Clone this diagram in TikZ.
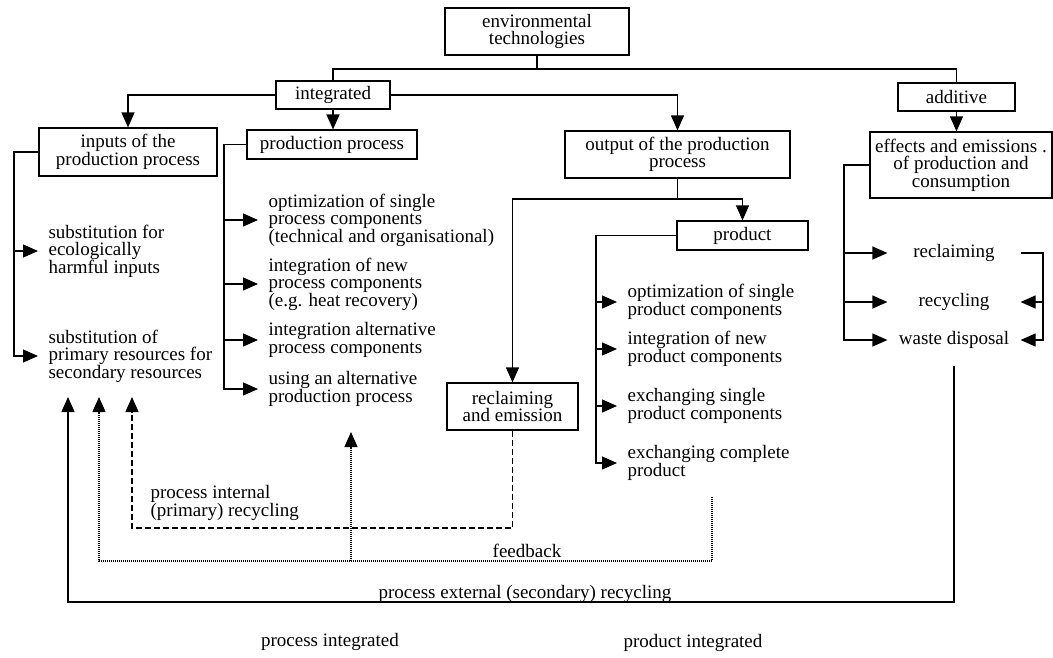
\documentclass[tikz,border=0pt]{standalone}
\usepackage{fontspec}
\setmainfont{Liberation Serif}
\usetikzlibrary{arrows.meta}
\tikzset{
  box/.style={draw, align=center, inner sep=0pt},
  item/.style={anchor=west, align=left, inner xsep=10pt, inner ysep=0pt},
  sink/.style={minimum width=132pt, inner sep=0pt},
  arr/.style={-{Triangle[length=15pt,width=13pt]}},
  primline/.style={dash pattern=on 6pt off 3pt},
  feedline/.style={dash pattern=on 1pt off 1pt}
}
\newcommand{\branch}[2]{\draw[arr] (#1.west -| #2) -- (#1.west);}

\begin{document}
\begin{tikzpicture}[x=1pt, y=-1pt, line width=1.2pt, font=\fontsize{19pt}{17.5pt}\selectfont]
      \useasboundingbox (0,0) rectangle (1053,657);
      \node[box, minimum width=184pt, minimum height=47pt] (env) at (537,31.5) {environmental\\technologies};
      \node[box, minimum width=114pt, minimum height=28pt] (integ) at (333,95) {integrated};
      \node[box, minimum width=117pt, minimum height=28pt] (addit) at (956.5,97) {additive};
      \node[box, minimum width=178pt, minimum height=48pt] (inputs) at (128,152) {inputs of the\\production process};
      \node[box, minimum width=170pt, minimum height=29pt] (proc) at (332,144.5) {production process};
      \node[box, minimum width=225pt, minimum height=47pt] (output) at (677.5,154.5) {output of the production\\process};
      \node[box, minimum width=182pt, minimum height=66pt] (effects) at (961,165) {effects and emissions .\\of production and\\consumption};
      \node[box, minimum width=131pt, minimum height=29pt] (product) at (742.5,235.5) {product};
      \node[box, minimum width=131pt, minimum height=47pt] (reclaim) at (512.5,406.5) {reclaiming\\and emission};
      \node[item] (in1) at (38,251) {substitution for\\ecologically\\harmful inputs};
      \node[item] (in2) at (38,356) {substitution of\\primary resources for\\secondary resources};
      \node[item] (pc1) at (258,220) {optimization of single\\process components\\(technical and organisational)};
      \node[item] (pc2) at (258,284) {integration of new\\process components\\(e.g. heat recovery)};
      \node[item] (pc3) at (258,340) {integration alternative\\process components};
      \node[item] (pc4) at (258,389) {using an alternative\\production process};
      \node[item] (pr1) at (617,302) {optimization of single\\product components};
      \node[item] (pr2) at (617,349) {integration of new\\product components};
      \node[item] (pr3) at (617,406) {exchanging single\\product components};
      \node[item] (pr4) at (617,463) {exchanging complete\\product};
      \node[sink] (recl) at (954,253) {reclaiming};
      \node[sink] (recy) at (954,302) {recycling};
      \node[sink] (waste) at (954,340) {waste disposal};
      \coordinate (split) at (537,69);
      \coordinate (osplit) at (677.5,199);
      \coordinate (inbus) at (14,0);
      \coordinate (pcbus) at (224,0);
      \coordinate (prbus) at (596,0);
      \coordinate (efbus) at (844,0);
      \coordinate (rtbus) at (1043,0);
      \draw (env.south) -- (split);
      \draw (integ.north) |- (split) -| (addit.north);
      \draw[arr] (integ.west) -| (inputs.north);
      \draw[arr] (integ.south) -- (proc.north -| integ.south);
      \draw[arr] (integ.east) -| (output.north);
      \draw[arr] (addit.south) -- (effects.north -| addit.south);
      \draw (output.south) -- (osplit);
      \draw[arr] (osplit) -| (reclaim.north);
      \draw[arr] (osplit) -| (product.north);
      \draw[arr] (inputs.west) -| (in2.west -| inbus) -- (in2.west);
      \branch{in1}{inbus}
      \draw[arr] (proc.west) -| (pc4.west -| pcbus) -- (pc4.west);
      \foreach \i in {1,2,3} {\branch{pc\i}{pcbus}}
      \draw[arr] (product.west) -| (pr4.west -| prbus) -- (pr4.west);
      \foreach \i in {1,2,3} {\branch{pr\i}{prbus}}
      \draw[arr] (effects.west) -| (waste.west -| efbus) -- (waste.west);
      \foreach \n in {recl,recy} {\branch{\n}{efbus}}
      \draw[arr] (recl.east) -| (waste.east -| rtbus) -- (waste.east);
      \draw[arr] (recy.east -| rtbus) -- (recy.east);
      \coordinate (tipy) at (0,397);
      \coordinate (extc) at (68,602);
      \coordinate (fbc) at (99,561);
      \coordinate (inc) at (132,528);
      \coordinate (fbstart) at (712,497);
      \coordinate (fbtip) at (351,432);
      \draw[arr, shorten <=17pt] (waste.south) |- (extc) -- (extc |- tipy);
      \draw[arr, feedline] (fbstart) |- (fbc) -- (fbc |- tipy);
      \draw[arr, feedline] (fbtip |- fbc) -- (fbtip);
      \draw[arr, primline] (reclaim.south) |- (inc) -- (inc |- tipy);
      \node[anchor=base] (extlbl) at (525,598) {process external (secondary) recycling};
      \node[anchor=base] (fblbl) at (527,557) {feedback};
      \node[anchor=west, align=left, inner sep=0pt] (inlbl) at (150,503) {process internal\\(primary) recycling};
      \node (pint) at (330,642) {process integrated};
      \node (prodint) at (693,643) {product integrated};
\end{tikzpicture}
\end{document}
